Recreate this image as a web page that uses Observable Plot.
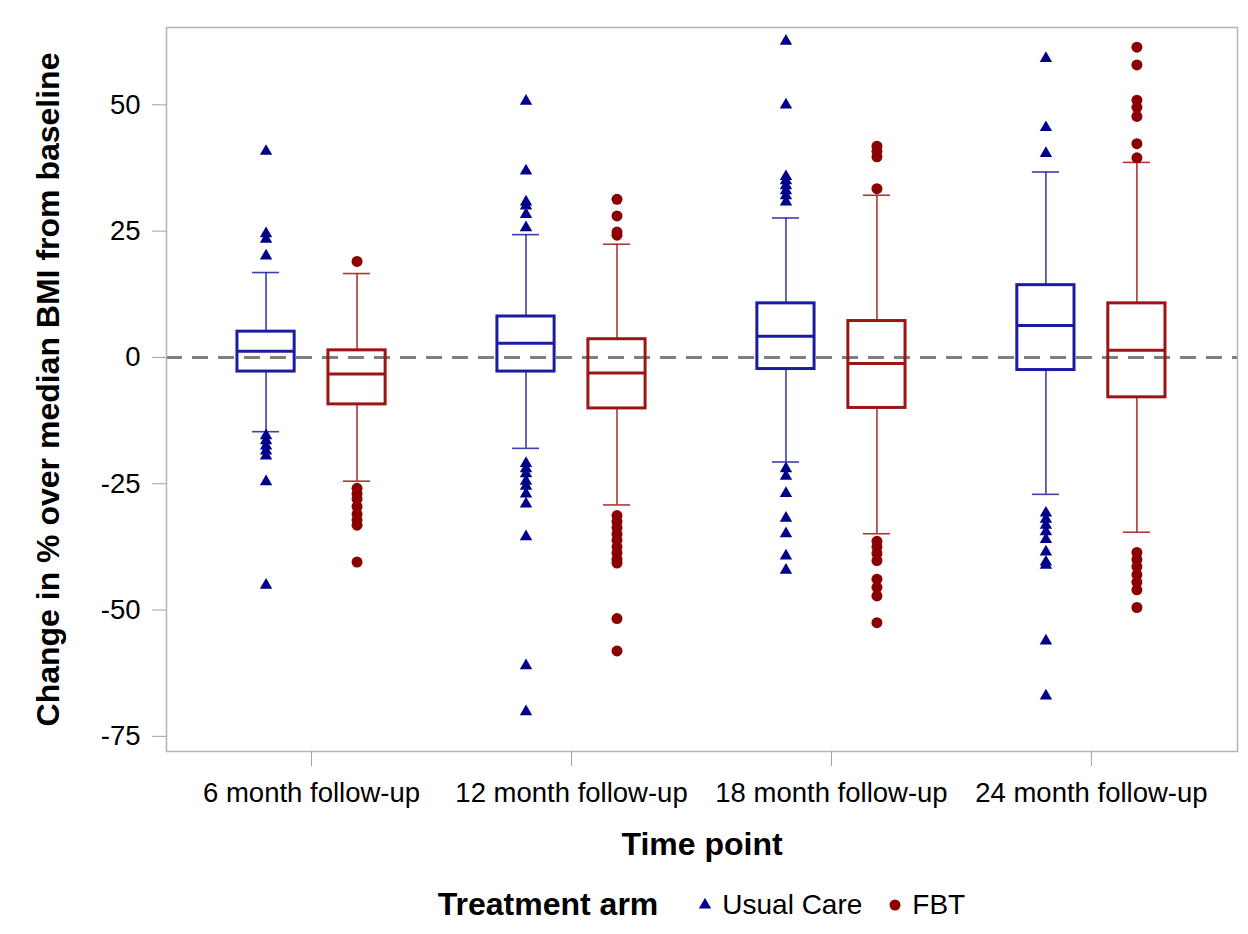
<!DOCTYPE html>
<html>
<head>
<meta charset="utf-8">
<script src="https://cdn.jsdelivr.net/npm/d3@7"></script>
<script src="https://cdn.jsdelivr.net/npm/@observablehq/plot@0.6"></script>
<style>
  body { margin: 0; background: #fff; font-family: 'Liberation Sans', Arial, sans-serif; }
  #legend { margin-left: 166px; width: 1071px; height: 59px; display: flex; justify-content: center; align-items: center; font-size: 28px; color: #000; }
  #legend .title { font-weight: bold; font-size: 32px; margin-right: 40px; }
  #legend .item { display: flex; align-items: center; }
  #legend .item + .item { margin-left: 26px; }
  #legend svg { margin-right: 10px; }
</style>
</head>
<body>
<div id="chart"></div>
<div id="legend"></div>
<script>
const timePoints = ["6 month follow-up", "12 month follow-up", "18 month follow-up", "24 month follow-up"];
const arms = ["Usual Care", "FBT"];
const yTicks = [50, 25, 0, -25, -50, -75];

// Usual Care box statistics
const ucWhiskerLow  = [-14.7, -18.0, -20.7, -27.1];
const ucQ1          = [-2.8, -2.8, -2.3, -2.5];
const ucMedian      = [1.2, 2.8, 4.2, 6.3];
const ucQ3          = [5.1, 8.1, 10.7, 14.3];
const ucWhiskerHigh = [16.8, 24.3, 27.6, 36.7];

// FBT box statistics
const fbtWhiskerLow  = [-24.5, -29.2, -34.9, -34.6];
const fbtQ1          = [-9.3, -10.1, -10.0, -7.9];
const fbtMedian      = [-3.3, -3.1, -1.2, 1.4];
const fbtQ3          = [1.4, 3.6, 7.2, 10.7];
const fbtWhiskerHigh = [16.6, 22.4, 32.1, 38.6];

// Outliers
const ucOutliers6   = [40.8, 24.5, 23.4, 20.1, -15.5, -16.5, -17.5, -18.5, -19.5, -24.6, -45.1];
const fbtOutliers6  = [19.0, -25.9, -27.0, -28.0, -29.5, -31.0, -32.2, -33.2, -40.5];
const ucOutliers12  = [50.7, 36.9, 30.8, 30.0, 28.3, 25.7, -21.0, -22.0, -23.0, -24.5, -25.5, -27.0, -29.0, -35.5, -61.0, -70.1];
const fbtOutliers12 = [31.3, 28.0, 24.8, 24.2, -31.3, -32.5, -33.7, -35.0, -36.2, -37.5, -38.7, -40.0, -40.7, -51.7, -58.1];
const ucOutliers18  = [62.6, 50.0, 35.8, 35.0, 34.0, 33.0, 32.0, 30.8, -22.0, -23.5, -26.9, -31.8, -34.9, -39.3, -42.1];
const fbtOutliers18 = [41.8, 40.8, 39.7, 33.4, -36.4, -37.5, -38.8, -40.2, -43.9, -45.5, -47.2, -52.5];
const ucOutliers24  = [59.2, 45.5, 40.4, -30.8, -32.0, -33.2, -34.5, -36.0, -38.5, -40.5, -41.1, -56.1, -67.0];
const fbtOutliers24 = [61.4, 57.9, 50.9, 49.5, 47.7, 42.3, 39.5, -38.6, -40.0, -41.4, -43.0, -44.5, -46.0, -49.5];

const ucOutliers = [ucOutliers6, ucOutliers12, ucOutliers18, ucOutliers24];
const fbtOutliers = [fbtOutliers6, fbtOutliers12, fbtOutliers18, fbtOutliers24];

// ---- build tables ----
const armOffset = {"Usual Care": -0.175, "FBT": 0.175};
const boxHalf = 0.11, capHalf = 0.052;
const lineColors = ["#1c1ca0", "#9c1414"];
const markerColors = {"Usual Care": "#00008b", "FBT": "#8b0000"};

const rows = timePoints.flatMap((t, i) => [
  {i, arm: "Usual Care", lo: ucWhiskerLow[i], q1: ucQ1[i], med: ucMedian[i], q3: ucQ3[i], hi: ucWhiskerHigh[i]},
  {i, arm: "FBT", lo: fbtWhiskerLow[i], q1: fbtQ1[i], med: fbtMedian[i], q3: fbtQ3[i], hi: fbtWhiskerHigh[i]}
]);
const outliers = timePoints.flatMap((t, i) => [
  ...ucOutliers[i].map(v => ({i, arm: "Usual Care", v})),
  ...fbtOutliers[i].map(v => ({i, arm: "FBT", v}))
]);
const pos = d => d.i + armOffset[d.arm];

const chart = Plot.plot({
  width: 1248,
  height: 875,
  marginLeft: 166,
  marginRight: 11,
  marginTop: 27,
  marginBottom: 124,
  style: {fontFamily: "'Liberation Sans', Arial, sans-serif", fontSize: "27.5px", background: "#fff", color: "#000"},
  x: {domain: [-0.558, 3.562], axis: null},
  y: {domain: [-78, 65.3], axis: null},
  color: {domain: arms, range: lineColors},
  marks: [
    Plot.ruleY([0], {stroke: "#7f7f7f", strokeWidth: 3, strokeDasharray: "16,10"}),
    // whiskers
    Plot.ruleX(rows, {x: pos, y1: "lo", y2: "q1", stroke: "arm", strokeWidth: 1.6, strokeOpacity: 0.85}),
    Plot.ruleX(rows, {x: pos, y1: "q3", y2: "hi", stroke: "arm", strokeWidth: 1.6, strokeOpacity: 0.85}),
    Plot.ruleY(rows, {y: "lo", x1: d => pos(d) - capHalf, x2: d => pos(d) + capHalf, stroke: "arm", strokeWidth: 1.6, strokeOpacity: 0.85}),
    Plot.ruleY(rows, {y: "hi", x1: d => pos(d) - capHalf, x2: d => pos(d) + capHalf, stroke: "arm", strokeWidth: 1.6, strokeOpacity: 0.85}),
    // boxes
    Plot.rect(rows, {x1: d => pos(d) - boxHalf, x2: d => pos(d) + boxHalf, y1: "q1", y2: "q3", stroke: "arm", fill: "none", strokeWidth: 3}),
    Plot.ruleY(rows, {y: "med", x1: d => pos(d) - boxHalf, x2: d => pos(d) + boxHalf, stroke: "arm", strokeWidth: 3}),
    // outliers
    Plot.dot(outliers.filter(d => d.arm === "Usual Care"), {x: pos, y: "v", symbol: "triangle", r: 4.6, fill: markerColors["Usual Care"], stroke: "none"}),
    Plot.dot(outliers.filter(d => d.arm === "FBT"), {x: pos, y: "v", symbol: "circle", r: 5.5, fill: markerColors["FBT"], stroke: "none"}),
    Plot.frame({stroke: "#b4b4b4", strokeWidth: 1.5}),
    Plot.axisY({ticks: yTicks, tickFormat: d => String(d), tickSize: 14, tickPadding: 12, label: null, stroke: "#a0a0a0", fill: "#000", fontSize: 27.5}),
    Plot.axisX({ticks: [0, 1, 2, 3], tickFormat: i => timePoints[i], tickSize: 15, tickPadding: 16, label: null, stroke: "#a0a0a0", fill: "#000", fontSize: 27.5}),
    Plot.text(["Change in % over median BMI from baseline"], {frameAnchor: "left", textAnchor: "middle", rotate: -90, dx: -118, fontWeight: "bold", fontSize: 32, fill: "#000"}),
    Plot.text(["Time point"], {frameAnchor: "bottom", dy: 103, fontWeight: "bold", fontSize: 32, fill: "#000"})
  ]
});
document.getElementById("chart").appendChild(chart);

// legend
const legend = document.getElementById("legend");
const t = document.createElement("span");
t.className = "title";
t.textContent = "Treatment arm";
legend.appendChild(t);
const symbols = {"Usual Care": d3.symbolTriangle, "FBT": d3.symbolCircle};
const sizes = {"Usual Care": Math.PI * 4.6 * 4.6, "FBT": Math.PI * 5.5 * 5.5};
arms.forEach(a => {
  const item = document.createElement("span");
  item.className = "item";
  const svg = d3.create("svg").attr("width", 14).attr("height", 14);
  svg.append("path").attr("transform", "translate(7,7)")
    .attr("d", d3.symbol(symbols[a], sizes[a])())
    .attr("fill", markerColors[a]);
  item.appendChild(svg.node());
  const label = document.createElement("span");
  label.textContent = a;
  item.appendChild(label);
  legend.appendChild(item);
});
</script>
</body>
</html>
